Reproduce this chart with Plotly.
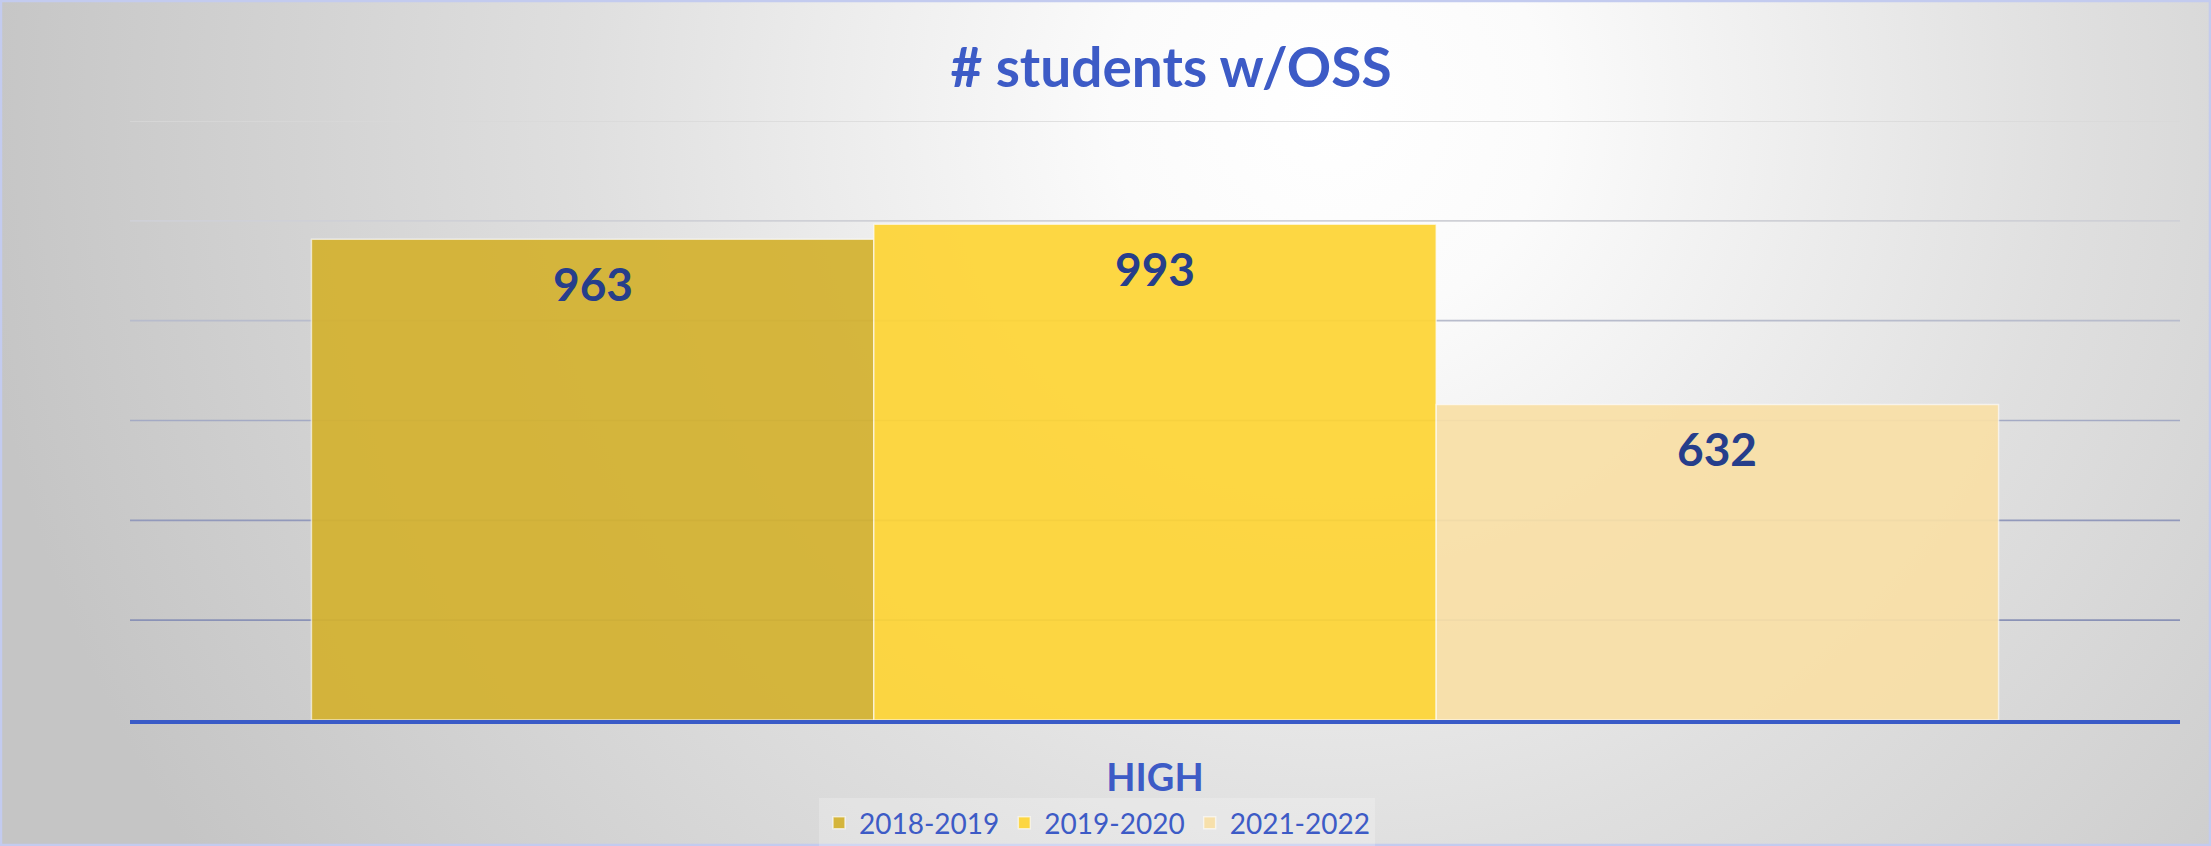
import base64
import plotly.graph_objects as go

# ---- data ----
categories = ["HIGH"]
series_names = ["2018-2019", "2019-2020", "2021-2022"]
series_values = [963, 993, 632]
series_colors = ["#D4B230", "#FED536", "#F9E0A7"]
y_ticks = [0, 200, 400, 600, 800, 1000, 1200]
grid_colors = ["#8a92b6", "#8a92b6", "#9299bb", "#a4aac4", "#b8bccc", "#cfd0d6", "#d8d8d8"]

W, H = 2211, 846
ML, MR, MT, MB = 130, 31, 121, 126
PW, PH = W - ML - MR, H - MT - MB
BARGAP = 0.177

# background: radial gradient with thin light-blue border
svg = f'''<svg xmlns="http://www.w3.org/2000/svg" width="{W}" height="{H}" viewBox="0 0 {W} {H}" preserveAspectRatio="none">
<defs><radialGradient id="g" gradientUnits="userSpaceOnUse" cx="1330" cy="110" r="1360" fx="1330" fy="110">
<stop offset="0" stop-color="#ffffff"/><stop offset="0.16" stop-color="#fbfbfb"/>
<stop offset="0.55" stop-color="#dfdfdf"/><stop offset="1" stop-color="#c5c5c5"/></radialGradient></defs>
<rect x="0" y="0" width="{W}" height="{H}" fill="url(#g)"/>
<rect x="1" y="1" width="{W-2}" height="{H-2}" fill="none" stroke="#c3cbef" stroke-width="2.5"/>
</svg>'''
bg_src = "data:image/svg+xml;base64," + base64.b64encode(svg.encode()).decode()

fig = go.Figure()
for name, val, col in zip(series_names, series_values, series_colors):
    fig.add_trace(go.Bar(
        x=categories, y=[val], name=name,
        marker=dict(color=col, line=dict(color="rgba(255,255,255,0.65)", width=1.5)),
        opacity=0.93,
    ))

# data labels inside top of each bar
n = len(series_names)
bw = (1 - BARGAP) / n
for i, val in enumerate(series_values):
    xpos = (i - (n - 1) / 2) * bw
    fig.add_annotation(x=xpos, y=val, xref="x", yref="y", text=str(val), showarrow=False,
                       yshift=-44, font=dict(family="Lato", size=46, color="#263E8B", weight="bold"))

# gridlines
for v, c in zip(y_ticks[1:], grid_colors[1:]):
    fig.add_shape(type="line", xref="paper", yref="y", x0=0, x1=1, y0=v, y1=v,
                  line=dict(color=c, width=1.6), layer="below")

fig.add_layout_image(dict(source=bg_src, xref="paper", yref="paper",
                          x=-ML / PW, y=1 + MT / PH, sizex=W / PW, sizey=H / PH,
                          xanchor="left", yanchor="top", sizing="stretch", layer="below"))

fig.update_layout(
    width=W, height=H,
    margin=dict(l=ML, r=MR, t=MT, b=MB, autoexpand=False),
    paper_bgcolor="#d0d0d0", plot_bgcolor="rgba(0,0,0,0)",
    barmode="group", bargap=BARGAP, bargroupgap=0,
    title=dict(text="# students w/OSS", x=(1171 - ML) / PW, xref="paper", xanchor="center",
               y=1 - 68 / H, yref="container", yanchor="middle",
               font=dict(family="Lato", size=55, color="#3D5BC6", weight="bold")),
    xaxis=dict(showline=True, linecolor="#3A5BC7", linewidth=4, ticks="", showgrid=False,
               tickfont=dict(family="Lato", size=38, color="#3D5BC6", weight="bold"),
               ticklabelstandoff=21, automargin=False),
    yaxis=dict(range=[0, 1200], showticklabels=False, showgrid=False, zeroline=False,
               tickvals=y_ticks, automargin=False),
    legend=dict(orientation="h", x=(1097 - ML) / PW, xanchor="center", y=(720 - 823) / PH,
                yanchor="middle", bgcolor="rgba(255,255,255,0.22)",
                font=dict(family="Lato", size=28, color="#3D5BC6"), traceorder="normal"),
    showlegend=True,
)

fig.write_html("out.html")
